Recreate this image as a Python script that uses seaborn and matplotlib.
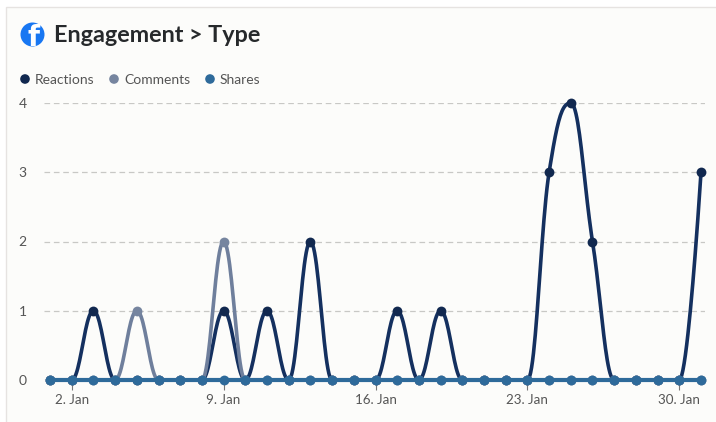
import numpy as np
import pandas as pd
import matplotlib
matplotlib.use("Agg")
import matplotlib.pyplot as plt
from matplotlib.patches import Rectangle, Circle
import seaborn as sns

W, H = 716, 422
days = list(range(1, 32))
reactions = [0,0,1,0,0,0,0,0,1,0,1,0,2,0,0,0,1,0,1,0,0,0,0,3,4,2,0,0,0,0,3]
comments  = [0,0,0,0,1,0,0,0,2,0,0,0,0,0,0,0,0,0,0,0,0,0,0,0,0,0,0,0,0,0,0]
shares    = [0]*31
tick_days = [2, 9, 16, 23, 30]
tick_labels = ["2. Jan", "9. Jan", "16. Jan", "23. Jan", "30. Jan"]
y_ticks = [0, 1, 2, 3, 4]
series_names = ["Reactions", "Comments", "Shares"]
line_colors = ["#14305F", "#6F7F9C", "#2E6A9A"]
dot_colors = ["#11284F", "#76859F", "#2E6A9A"]

sns.set_theme(style="white")
plt.rcParams["font.family"] = ["Lato", "DejaVu Sans"]


def spline(xs, ys, smoothing=1.5, n=24):
    """Smooth clamped bezier through the data points."""
    xs = np.asarray(xs, float); ys = np.asarray(ys, float)
    den = smoothing + 1
    m = len(xs)
    lx, ly, rx, ry = xs.copy(), ys.copy(), xs.copy(), ys.copy()
    for i in range(1, m - 1):
        x, y = xs[i], ys[i]
        lcx = (smoothing * x + xs[i - 1]) / den
        lcy = (smoothing * y + ys[i - 1]) / den
        rcx = (smoothing * x + xs[i + 1]) / den
        rcy = (smoothing * y + ys[i + 1]) / den
        c = (rcy - lcy) * (rcx - x) / (rcx - lcx) + y - rcy
        lcy += c; rcy += c
        if (lcy > ys[i - 1] and lcy > y):
            lcy = max(ys[i - 1], y); rcy = 2 * y - lcy
        elif (lcy < ys[i - 1] and lcy < y):
            lcy = min(ys[i - 1], y); rcy = 2 * y - lcy
        if (rcy > ys[i + 1] and rcy > y):
            rcy = max(ys[i + 1], y); lcy = 2 * y - rcy
        elif (rcy < ys[i + 1] and rcy < y):
            rcy = min(ys[i + 1], y); lcy = 2 * y - rcy
        lx[i], ly[i], rx[i], ry[i] = lcx, lcy, rcx, rcy
    t = np.linspace(0, 1, n)[:, None]
    px, py = [], []
    for i in range(m - 1):
        b = np.hstack([(1 - t) ** 3, 3 * t * (1 - t) ** 2, 3 * t ** 2 * (1 - t), t ** 3])
        px.append(b @ np.array([xs[i], rx[i], lx[i + 1], xs[i + 1]]))
        py.append(b @ np.array([ys[i], ry[i], ly[i + 1], ys[i + 1]]))
    return np.concatenate(px), np.concatenate(py)


BG = "#FCFCFA"
fig = plt.figure(figsize=(W / 100, H / 100), dpi=100, facecolor="white")
fig.patches.append(Rectangle((5.5 / W, -0.1), 1.1, 1 - 6.5 / H + 0.1, transform=fig.transFigure,
                             facecolor=BG, edgecolor="#E6E3E1", linewidth=1, zorder=-5))

# plot area in pixels
L, R, T, B = 44, 705, 103, 380
ax = fig.add_axes([L / W, 1 - B / H, (R - L) / W, (B - T) / H])
ax.patch.set_alpha(0)
dx = 30 / (701 - 50)
ax.set_xlim(1 - (50 - L) * dx, 31 + (R - 701) * dx)
ax.set_ylim(0, 4)

for name, vals, lc, dc, lw, z in zip(series_names, [reactions, comments, shares], line_colors, dot_colors,
                                     [2.6, 2.6, 3.0], [3, 4, 5]):
    cx, cy = spline(days, vals)
    curve = pd.DataFrame({"x": cx, "y": cy})
    sns.lineplot(data=curve, x="x", y="y", ax=ax, color=lc, linewidth=lw, sort=False,
                 estimator=None, clip_on=False, zorder=z, solid_capstyle="round")
    pts = pd.DataFrame({"x": days, "y": vals})
    sns.scatterplot(data=pts, x="x", y="y", ax=ax, color=dc, s=50, linewidth=0,
                    clip_on=False, zorder=z + 0.5)

ax.set_xlabel(""); ax.set_ylabel("")
ax.set_xticks(tick_days)
ax.set_xticklabels(tick_labels)
ax.set_yticks(y_ticks)
ax.set_yticklabels([str(v) for v in y_ticks])
ax.tick_params(axis="x", length=7, width=0.8, color="#777777", labelcolor="#555555",
               labelsize=9.6, pad=3.2, bottom=True)
ax.tick_params(axis="y", length=0, labelcolor="#555555", labelsize=10, pad=15.5)
for lab in ax.get_yticklabels():
    lab.set_horizontalalignment("center")
ax.yaxis.grid(True, color="#C8C8C5", linestyle=(0, (4.5, 3)), linewidth=0.9)
ax.xaxis.grid(False)
ax.set_axisbelow(True)
for s in ax.spines.values():
    s.set_visible(False)

# title + icon + legend
overlay = fig.add_axes([0, 0, 1, 1], zorder=10)
overlay.set_xlim(0, W); overlay.set_ylim(H, 0); overlay.axis("off")
icon = Circle((32.5, 34.5), 12, facecolor="#1877F2", edgecolor="none")
overlay.add_patch(icon)
f_mark = overlay.text(34, 38.5, "f", color="white", fontsize=20, fontweight="bold", ha="center", va="center",
                      family="DejaVu Sans")
f_mark.set_clip_path(icon)
overlay.text(54, 36, "Engagement > Type", color="#26292B", fontsize=16.8, fontweight="bold",
             ha="left", va="center")

legend_x = [25, 114, 210]
for name, dc, lx_ in zip(series_names, dot_colors, legend_x):
    overlay.add_patch(Circle((lx_, 79), 4.8, facecolor=dc, edgecolor="none"))
    overlay.text(lx_ + 10, 79.5, name, color="#555555", fontsize=10, ha="left", va="center")

fig.savefig("out.png", dpi=100, facecolor="white")
